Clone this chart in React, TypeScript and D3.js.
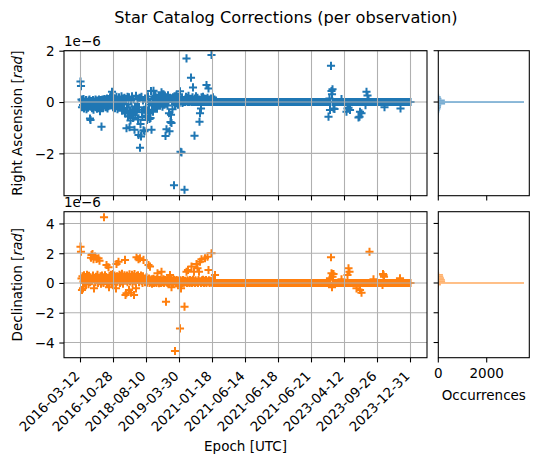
import React, { useRef, useEffect } from 'react';
import * as d3 from 'd3';

// Epoch of the observation found at every labelled tick (one tick every TICK_STEP observations)
const TICK_EPOCHS = [
    '2016-03-12', '2016-10-28', '2018-08-10', '2019-03-30', '2021-01-18', '2021-06-14',
    '2021-06-18', '2021-06-21', '2023-04-12', '2023-09-26', '2023-12-31',
];
const TICK_STEP = 66;

// Right ascension correction per observation, units of 1e-6 rad
const raValues = [
    // 0
    0.80, 0.62, 0.10, -0.20, 0.05, -0.12, 0.12, -0.25, 0.02, -0.08,
    -0.18, 0.08, -0.28, 0.00, -0.10, -0.22, 0.06, -0.15, 0.10, -0.64,
    -0.70, -0.05, 0.04, -0.24, -0.12, 0.08, -0.30, -0.16, 0.02, -0.08,
    0.10, -0.20, -0.04, -0.26, 0.06, -0.14, -0.22, 0.10, -0.18, -0.36,
    -0.06, 0.08, -0.96, -0.18, 0.10, -0.24, 0.00, -0.12, 0.12, -0.04,
    // 50
    -0.20, 0.10, -0.08, 0.14, -0.25, 0.04, -0.16, 0.12, -0.06, 0.18,
    0.02, 0.22, -0.12, 0.40, 0.05, -0.20, 0.16, -0.08, 0.10, -0.24,
    0.14, -0.16, 0.20, 0.00, -0.28, 0.08, -0.12, 0.18, -0.04, -0.22,
    0.10, -0.18, 0.22, -0.34, 0.00, 0.14, -0.26, -0.08, 0.16, -0.38,
    -0.45, 0.12, -1.02, -0.22, 0.20, -0.55, -0.10, 0.18, -0.98, -0.32,
    // 100
    -0.72, 0.06, -0.48, 0.22, -0.28, -0.62, 0.10, -0.42, -1.08, -0.18,
    -0.52, 0.24, -0.34, -0.20, 0.12, -0.68, -1.28, -0.20, 0.16, -1.78,
    -0.86, -1.34, 0.20, -0.40, -0.58, 0.06, -1.10, -0.30, -1.14, 0.14,
    -0.54, -0.20, 0.12, -0.70, -0.34, 0.22, -0.44, -0.10, -0.66, 0.00,
    -0.62, 0.43, -1.08, -0.30, 0.10, -0.38, 0.44, -0.14, 0.18, -0.05,
    // 150
    0.24, -0.18, 0.08, -0.26, 0.16, 0.00, -0.14, 0.20, 0.04, -0.10,
    0.18, -0.06, 0.38, 0.08, -0.18, 0.12, 0.30, 0.00, -0.10, 0.22,
    -1.32, 0.10, -1.06, 0.18, -0.14, 0.26, 0.04, -0.44, -1.14, 0.16,
    -0.78, -0.50, -0.82, 0.10, -0.28, 0.18, 0.00, -3.24, 0.22, -0.08,
    0.14, -0.06, 0.28, 0.00, 0.10, -0.10, 0.20, 0.04, -0.04, 0.42,
    // 200
    -1.94, 0.10, -1.96, 0.18, -0.04, 0.08, 0.00, 0.02, -3.42, 0.00,
    0.00, 0.20, 1.70, 0.04, 0.16, 0.00, 0.24, 0.06, 0.00, 0.12,
    0.02, 0.95, 0.10, 0.00, 0.18, 0.57, 0.04, 0.00, -1.31, 0.14,
    0.00, 0.22, 0.06, 0.00, 0.16, 0.02, 0.00, 0.10, -0.77, -0.44,
    0.00, -0.25, 0.18, 0.04, 0.00, 0.20, 0.06, 0.00, 0.14, 0.02,
    // 250
    0.00, 0.12, 0.66, 0.00, 0.16, 0.04, 0.53, 0.00, 0.10, 0.02,
    0.00, 0.14, 1.83, 0.00, 0.06, 0.18, 0.00, 0.04, 0.10, 0.00,
    // 270
    0, 0, 0, 0, 0, 0, 0, 0, 0, 0, 0, 0, 0, 0, 0, 0, 0, 0, 0, 0,
    0, 0, 0, 0, 0, 0, 0, 0, 0, 0, 0, 0, 0, 0, 0, 0, 0, 0, 0, 0,
    0, 0, 0, 0, 0, 0, 0, 0, 0, 0, 0, 0, 0, 0, 0, 0, 0, 0, 0, 0,
    0, 0, 0, 0, 0, 0, 0, 0, 0, 0, 0, 0, 0, 0, 0, 0, 0, 0, 0, 0,
    0, 0, 0, 0, 0, 0, 0, 0, 0, 0, 0, 0, 0, 0, 0, 0, 0, 0, 0, 0,
    0, 0, 0, 0, 0, 0, 0, 0, 0, 0, 0, 0, 0, 0, 0, 0, 0, 0, 0, 0,
    0, 0, 0, 0, 0, 0, 0, 0, 0, 0, 0, 0, 0, 0, 0, 0, 0, 0, 0, 0,
    0, 0, 0, 0, 0, 0, 0, 0, 0, 0, 0, 0, 0, 0, 0, 0, 0, 0, 0, 0,
    0, 0, 0, 0, 0, 0, 0, 0, 0, 0, 0, 0, 0, 0, 0, 0, 0, 0, 0, 0,
    0, 0, 0, 0, 0, 0, 0, 0, 0, 0, 0, 0, 0, 0, 0, 0, 0, 0, 0, 0,
    0, 0, 0, 0, 0, 0, 0, 0, 0, 0, 0, 0, 0, 0, 0, 0, 0, 0, 0, 0,
    // 490
    0, 0, 0, 0, 0, 0, -0.57, 0, 0.14, -0.31,
    0, 1.41, 0.43, 0.30, 0.50, 0, -0.25, 0, -0.27, 0,
    0, 0, 0, 0, 0, 0, 0, 0, 0, 0,
    0, 0, 0.12, 0, 0, 0, 0, 0, 0, 0,
    0, 0, -0.38, 0, -0.25, 0, -0.22, 0, 0, -0.31,
    // 540
    0, 0, 0, 0, 0, 0, 0, 0, 0, 0,
    0, 0, 0, 0, 0, 0, -0.60, 0, -0.57, -0.38,
    0, 0, -0.44, 0, 0, 0, 0, 0, 0, 0,
    -0.12, 0, 0.40, 0, 0.25, 0, 0.08, 0, 0, 0,
    0, 0, 0, 0, 0, 0, 0, 0, 0, 0, 0, 0, 0, 0, 0, 0, 0, 0, 0, 0,
    // 600
    0, 0, 0, 0, 0, 0, 0, 0, -0.20, 0,
    0, 0, 0, 0, 0, 0, 0, 0, 0, 0, 0, 0, 0, 0, 0, 0, 0, 0, 0, 0,
    0, 0, 0, 0, 0, 0, 0, 0, 0, 0,
    -0.25, 0, 0, 0, 0, 0, 0, 0, 0, 0,
    0, 0, 0, 0, 0, 0, 0, 0, 0, 0,
    // 660
    0,
];

// Declination correction per observation, units of 1e-6 rad
const decValues = [
    // 0
    2.44, 2.10, 0.30, -0.47, 0.45, -0.36, 0.10, 0.52, 0.20, 0.00,
    0.40, -0.05, 0.28, 0.55, 0.12, 0.35, -0.08, 0.48, 0.22, 0.05,
    0.38, 1.70, 1.88, 0.15, 1.95, 0.50, 1.59, -0.36, 0.30, 1.77,
    0.05, 0.42, 1.62, 0.20, 0.55, 0.00, 1.66, 0.32, 1.50, 0.12,
    0.45, -0.05, 0.25, 0.50, 0.10, 0.38, 0.00, 4.42, 0.30, 0.52,
    // 50
    0.15, 0.40, 1.21, -0.08, 0.35, 0.22, 1.06, -0.29, 0.48, 0.10,
    0.30, 0.55, 0.05, 0.42, 0.18, 0.60, -0.02, 0.35, 0.50, 0.12,
    0.28, -0.36, 1.28, 0.45, 0.08, 0.38, 1.43, 0.20, 0.55, 0.00,
    0.32, 0.48, 0.10, 0.62, 0.25, -0.05, 0.40, 0.15, 0.52, 1.55,
    -0.81, 0.35, -0.69, 0.50, 0.05, 0.42, 0.20, -0.47, 0.58, 0.10,
    // 100
    0.38, -0.65, 0.25, 0.55, -0.02, 0.45, 0.15, -0.81, 0.60, 0.30,
    0.08, -0.36, 1.73, 0.48, 0.20, 0.52, 1.59, 0.05, 0.40, 1.66,
    0.25, 0.50, 0.12, 0.35, 0.00, 0.45, 1.55, 0.18, 0.30, 0.05,
    0.28, 0.10, 0.38, 0.02, 0.22, 0.15, 1.21, 0.30, 0.00, 1.10,
    0.18, 0.05, 0.25, -0.04, 0.20, 0.10, 0.28, 0.00, 0.15, 0.22,
    // 150
    0.05, 0.18, 0.00, 0.25, 0.65, 0.10, 0.20, -0.02, 0.15, 0.08,
    0.22, 0.00, 0.76, 0.12, 0.18, 0.05, 0.25, 0.00, 0.15, 0.10,
    0.20, -1.26, 0.05, 0.18, 0.00, 0.22, 0.10, -0.02, 0.15, 0.54,
    0.08, 0.20, -0.29, 0.12, 0.00, 0.18, 0.05, 0.22, 0.10, -4.57,
    0.15, 0.00, 0.20, 0.08, -0.04, 0.16, 0.05, 0.12, 0.00, -3.05,
    // 200
    0.18, -0.36, 0.06, 0.12, 0.00, 0.20, 0.08, 0.02, -1.59, 0.14,
    0.05, 0.10, 0.76, 0.00, 0.18, 0.87, 0.06, 0.12, 0.00, 0.20,
    0.04, 0.15, 1.10, 0.00, 0.10, 0.22, 0.05, 0.76, 0.12, 0.00,
    0.18, 0.06, 1.28, 0.10, 0.99, 0.00, 0.20, 0.76, 0.08, 1.43,
    0.12, 0.00, 1.59, 0.18, 0.05, 0.22, 0.10, 0.00, 0.15, 1.66,
    // 250
    0.06, 0.20, 0.00, 0.12, 1.77, 0.08, 0.87, 0.18, 0.00, 0.10,
    0.15, 0.04, 2.00, 0.12, 0.00, 0.20, 0.08, 0.00, 0.14, 0.54,
    // 270
    0, 0, 0, 0, 0, 0, 0, 0, 0, 0, 0, 0, 0, 0, 0, 0, 0, 0, 0, 0,
    0, 0, 0, 0, 0, 0, 0, 0, 0, 0, 0, 0, 0, 0, 0, 0, 0, 0, 0, 0,
    0, 0, 0, 0, 0, 0, 0, 0, 0, 0, 0, 0, 0, 0, 0, 0, 0, 0, 0, 0,
    0, 0, 0, 0, 0, 0, 0, 0, 0, 0, 0, 0, 0, 0, 0, 0, 0, 0, 0, 0,
    0, 0, 0, 0, 0, 0, 0, 0, 0, 0, 0, 0, 0, 0, 0, 0, 0, 0, 0, 0,
    0, 0, 0, 0, 0, 0, 0, 0, 0, 0, 0, 0, 0, 0, 0, 0, 0, 0, 0, 0,
    0, 0, 0, 0, 0, 0, 0, 0, 0, 0, 0, 0, 0, 0, 0, 0, 0, 0, 0, 0,
    0, 0, 0, 0, 0, 0, 0, 0, 0, 0, 0, 0, 0, 0, 0, 0, 0, 0, 0, 0,
    0, 0, 0, 0, 0, 0, 0, 0, 0, 0, 0, 0, 0, 0, 0, 0, 0, 0, 0, 0,
    0, 0, 0, 0, 0, 0, 0, 0, 0, 0, 0, 0, 0, 0, 0, 0, 0, 0, 0, 0,
    0, 0, 0, 0, 0, 0, 0, 0, 0, 0, 0, 0, 0, 0, 0, 0, 0, 0, 0, 0,
    // 490
    0, 0, 0, 0, 0, 0, 0, 0, 0, 0.32,
    0, 1.73, 0.65, -0.29, 0.42, 0, 0.60, 0, 0, 0,
    0, 0, 0, 0, 0, 0, 0, 0, 0, 0,
    0, 0, 0.25, 0, 0, 0, 0, 0, 0, 0,
    0, 0, 0, 0, 0.54, 0, 0.99, 0, 0.76, 0,
    // 540
    0, 0, 0, 0, 0, 0, 0, 0, 0, 0,
    0, 0, -0.36, 0, 0, 0, 0, 0, 0, -0.47,
    0, 0, -0.65, 0, 0, 0, 0, 0, 0, 0,
    0, 0, 0, 0, 0, 0, 0, 0, 2.10, 0,
    0, 0, 0, 0, 0, 0, 0.25, 0, 0, 0,
    0, 0, 0, 0, 0, 0, 0, 0, 0, 0,
    // 600
    0, 0, 0, 0, -0.13, 0.60, 0.54, 0.42, 0, 0,
    0, 0, 0, 0, 0, 0, 0, 0, 0, 0, 0, 0, 0, 0, 0, 0, 0, 0, 0, 0,
    0, 0, 0, 0, 0, 0, 0, 0, 0, 0.32,
    0, 0, 0, 0, 0, 0, 0, 0, 0, 0,
    0, 0, 0, 0, 0, 0, 0, 0, 0, 0,
    // 660
    0,
];

// Histogram of the corrections: lower bin edge (1e-6 rad) and number of occurrences
const RA_BIN_WIDTH = 0.066;
const raHistLo = [-0.825, -0.759, -0.693, -0.627, -0.561, -0.495, -0.429, -0.363, -0.297, -0.231, -0.165, -0.099, -0.033, 0.033, 0.099, 0.165, 0.231, 0.297, 0.363];
const raHistCount = [4, 6, 8, 10, 20, 30, 40, 60, 90, 110, 120, 280, 3540, 270, 130, 100, 40, 20, 12];

const DEC_BIN_WIDTH = 0.11;
const decHistLo = [-0.385, -0.275, -0.165, -0.055, 0.055, 0.165, 0.275, 0.385, 0.495, 0.605, 0.715, 0.825];
const decHistCount = [10, 30, 110, 3540, 280, 270, 235, 205, 190, 40, 20, 10];

const raTicks = [-2, 0, 2];
const decTicks = [-4, -2, 0, 2, 4];
const histTicks = [0, 2000];

const WIDTH = 538;
const HEIGHT = 464;
const FONT = '"DejaVu Sans", sans-serif';
const FS = 13.5;
const TICK = 4.7;
const LW = 1.08;
const BLUE = '#1f77b4';
const ORANGE = '#ff7f0e';

const fmt = (d: number) => (d < 0 ? `\u2212${Math.abs(d)}` : `${d}`);

const App: React.FC = () => {
    const svgRef = useRef<SVGSVGElement | null>(null);

    useEffect(() => {
        if (!svgRef.current) return;
        const svg = d3.select(svgRef.current);
        svg.selectAll('*').remove();

        const left = 64, right = 427, hLeft = 438.3, hRight = 529.3;
        const panels = [
            { top: 50.7, bottom: 195.7, domain: [-3.65, 2.0], values: raValues, ticks: raTicks, color: BLUE,
              histLo: raHistLo, histCount: raHistCount, binWidth: RA_BIN_WIDTH, label: 'Right Ascension', labels: false },
            { top: 211.7, bottom: 357.7, domain: [-5.02, 4.79], values: decValues, ticks: decTicks, color: ORANGE,
              histLo: decHistLo, histCount: decHistCount, binWidth: DEC_BIN_WIDTH, label: 'Declination', labels: true },
        ];

        const nObs = TICK_STEP * (TICK_EPOCHS.length - 1);
        const pad = nObs * 0.05;
        const x = d3.scaleLinear().domain([-pad, nObs + pad]).range([left, right]);
        const xh = d3.scaleLinear().domain([0, 3760]).range([hLeft, hRight]);
        const tickIdx = TICK_EPOCHS.map((_, i) => i * TICK_STEP);

        svg.append('rect').attr('width', WIDTH).attr('height', HEIGHT).attr('fill', 'white');

        svg.append('text')
            .attr('x', 286).attr('y', 23.3)
            .attr('text-anchor', 'middle')
            .attr('font-size', 16.2)
            .text('Star Catalog Corrections (per observation)');

        panels.forEach(p => {
            const y = d3.scaleLinear().domain(p.domain).range([p.bottom, p.top]);
            const g = svg.append('g');

            // --- SCATTER (plus markers) ---
            const ms = 4.05;
            const path = d3.path();
            p.values.forEach((v, i) => {
                const cx = x(i), cy = y(v);
                path.moveTo(cx - ms, cy); path.lineTo(cx + ms, cy);
                path.moveTo(cx, cy - ms); path.lineTo(cx, cy + ms);
            });
            g.append('path')
                .attr('d', path.toString())
                .attr('fill', 'none')
                .attr('stroke', p.color)
                .attr('stroke-width', 2);

            // --- GRID ---
            g.append('g').selectAll('line')
                .data(tickIdx)
                .join('line')
                .attr('x1', d => x(d)).attr('x2', d => x(d))
                .attr('y1', p.top).attr('y2', p.bottom)
                .attr('stroke', '#b0b0b0').attr('stroke-width', LW);
            g.append('g').selectAll('line')
                .data(p.ticks)
                .join('line')
                .attr('x1', left).attr('x2', right)
                .attr('y1', d => y(d)).attr('y2', d => y(d))
                .attr('stroke', '#b0b0b0').attr('stroke-width', LW);

            // --- Y AXIS ---
            const yAxis = g.append('g')
                .attr('transform', `translate(${left},0)`)
                .call(d3.axisLeft(y).tickValues(p.ticks).tickSize(TICK).tickPadding(TICK).tickFormat(d => fmt(+d)));
            yAxis.select('.domain').remove();
            yAxis.selectAll('line').attr('stroke-width', LW);
            yAxis.selectAll('text').attr('font-size', FS).attr('font-family', FONT).attr('fill', 'black').attr('dy', '0.36em');

            // --- X TICKS ---
            g.append('g').selectAll('line')
                .data(tickIdx)
                .join('line')
                .attr('x1', d => x(d)).attr('x2', d => x(d))
                .attr('y1', p.bottom).attr('y2', p.bottom + TICK)
                .attr('stroke', 'black').attr('stroke-width', LW);

            if (p.labels) {
                g.append('g').selectAll('text')
                    .data(tickIdx)
                    .join('text')
                    .attr('transform', d => `translate(${x(d)},${p.bottom + 19.3}) rotate(-45)`)
                    .attr('text-anchor', 'end')
                    .attr('font-size', FS)
                    .text((_, i) => TICK_EPOCHS[i]);
            }

            // offset text
            g.append('text')
                .attr('x', left).attr('y', p.top - 4.7)
                .attr('font-size', FS)
                .text('1e\u22126');

            // y label
            const yl = g.append('text')
                .attr('transform', `translate(21.5,${(p.top + p.bottom) / 2}) rotate(-90)`)
                .attr('text-anchor', 'middle')
                .attr('font-size', FS);
            yl.append('tspan').text(`${p.label} [`);
            yl.append('tspan').attr('font-style', 'italic').text('rad');
            yl.append('tspan').text(']');

            // --- SPINES ---
            g.append('rect')
                .attr('x', left).attr('y', p.top)
                .attr('width', right - left).attr('height', p.bottom - p.top)
                .attr('fill', 'none').attr('stroke', 'black').attr('stroke-width', LW);

            // --- HISTOGRAM ---
            const h = svg.append('g');
            h.append('g').selectAll('rect')
                .data(p.histLo)
                .join('rect')
                .attr('x', xh(0))
                .attr('y', d => y(d + p.binWidth))
                .attr('width', (_, i) => xh(p.histCount[i]) - xh(0))
                .attr('height', d => y(d) - y(d + p.binWidth))
                .attr('fill', p.color)
                .attr('fill-opacity', 0.6);

            h.append('g').selectAll('line')
                .data(p.ticks)
                .join('line')
                .attr('x1', hLeft - TICK).attr('x2', hLeft)
                .attr('y1', d => y(d)).attr('y2', d => y(d))
                .attr('stroke', 'black').attr('stroke-width', LW);
            h.append('g').selectAll('line')
                .data(histTicks)
                .join('line')
                .attr('x1', d => xh(d)).attr('x2', d => xh(d))
                .attr('y1', p.bottom).attr('y2', p.bottom + TICK)
                .attr('stroke', 'black').attr('stroke-width', LW);
            if (p.labels) {
                h.append('g').selectAll('text')
                    .data(histTicks)
                    .join('text')
                    .attr('x', d => xh(d)).attr('y', p.bottom + 20.3)
                    .attr('text-anchor', 'middle')
                    .attr('font-size', FS)
                    .text(d => `${d}`);
            }
            h.append('rect')
                .attr('x', hLeft).attr('y', p.top)
                .attr('width', hRight - hLeft).attr('height', p.bottom - p.top)
                .attr('fill', 'none').attr('stroke', 'black').attr('stroke-width', LW);
        });

        svg.append('text')
            .attr('x', (left + right) / 2).attr('y', 451)
            .attr('text-anchor', 'middle')
            .attr('font-size', FS)
            .text('Epoch [UTC]');
        svg.append('text')
            .attr('x', (hLeft + hRight) / 2).attr('y', 399.5)
            .attr('text-anchor', 'middle')
            .attr('font-size', FS)
            .text('Occurrences');
    }, []);

    return (
        <svg
            ref={svgRef}
            width={WIDTH}
            height={HEIGHT}
            fontFamily={FONT}
            style={{ position: 'absolute', left: 0, top: 0 }}
        />
    );
};

export default App;
